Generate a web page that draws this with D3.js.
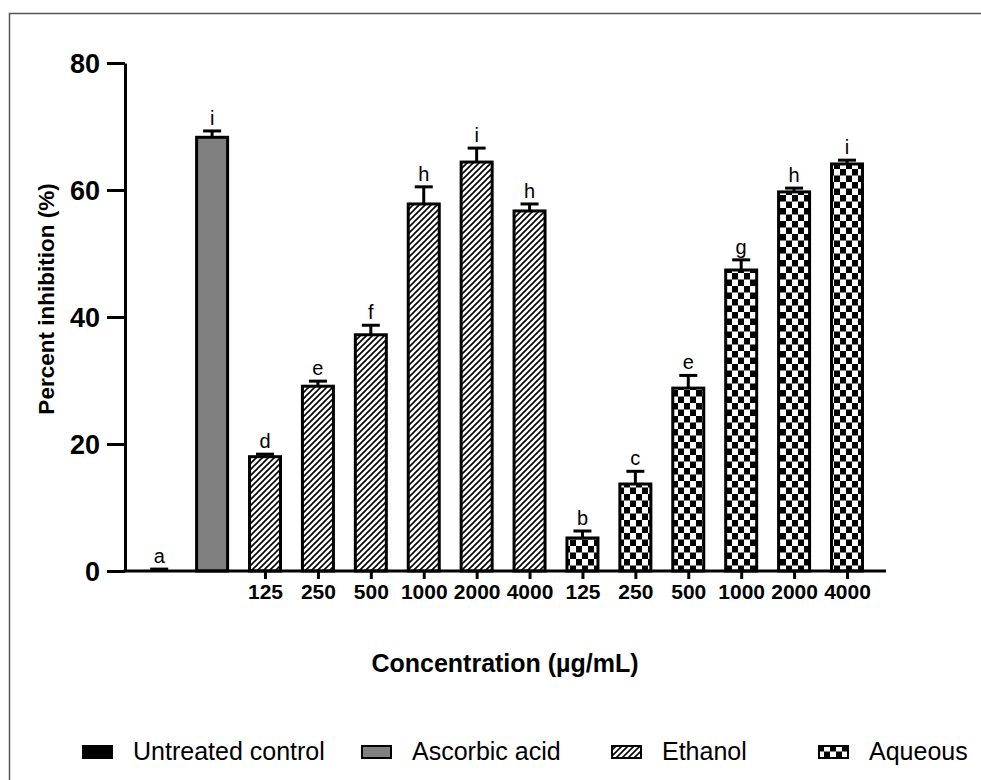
<!DOCTYPE html>
<html>
<head>
<meta charset="utf-8">
<script src="https://cdn.jsdelivr.net/npm/d3@7"></script>
<style>
  body { margin: 0; background: #fff; }
  text { font-family: "Liberation Sans", Arial, sans-serif; fill: #000; }
</style>
</head>
<body>
<script>
// data
const groups = ["Untreated control", "Ascorbic acid", "Ethanol", "Aqueous"];
const barGroup = ["Untreated control", "Ascorbic acid",
  "Ethanol", "Ethanol", "Ethanol", "Ethanol", "Ethanol", "Ethanol",
  "Aqueous", "Aqueous", "Aqueous", "Aqueous", "Aqueous", "Aqueous"];
const barLabel = ["", "", "125", "250", "500", "1000", "2000", "4000",
  "125", "250", "500", "1000", "2000", "4000"];
const means = [0.0, 68.3, 18.0, 29.1, 37.2, 57.8, 64.4, 56.7, 5.2, 13.7, 28.8, 47.4, 59.7, 64.1];
const errors = [0.3, 1.0, 0.4, 0.8, 1.5, 2.7, 2.2, 1.1, 1.1, 2.0, 2.0, 1.6, 0.6, 0.6];
const letters = ["a", "i", "d", "e", "f", "h", "i", "h", "b", "c", "e", "g", "h", "i"];
const yTicks = [0, 20, 40, 60, 80];

const W = 981, H = 780;
const axisLeftX = 125, axisRightX = 886;
const barW = 31;

const bars = means.map((m, i) => ({ id: i, group: barGroup[i], label: barLabel[i], mean: m, err: errors[i], letter: letters[i] }));

const svg = d3.select("body").append("svg").attr("width", W).attr("height", H);

// patterns
const defs = svg.append("defs");
const hatch = defs.append("pattern").attr("id", "hatch")
  .attr("patternUnits", "userSpaceOnUse").attr("width", 6).attr("height", 6);
hatch.append("rect").attr("width", 6).attr("height", 6).attr("fill", "#fff");
hatch.append("path").attr("d", "M0,6 L6,0 M-1.5,1.5 L1.5,-1.5 M4.5,7.5 L7.5,4.5")
  .attr("stroke", "#000").attr("stroke-width", 1.6);

const checker = defs.append("pattern").attr("id", "checker")
  .attr("patternUnits", "userSpaceOnUse").attr("width", 12).attr("height", 13);
checker.append("rect").attr("width", 12).attr("height", 13).attr("fill", "#fff");
checker.append("rect").attr("width", 6).attr("height", 6.5).attr("fill", "#000");
checker.append("rect").attr("x", 6).attr("y", 6.5).attr("width", 6).attr("height", 6.5).attr("fill", "#000");

const fillOf = {
  "Untreated control": "#000",
  "Ascorbic acid": "#808080",
  "Ethanol": "url(#hatch)",
  "Aqueous": "url(#checker)"
};

// frame
svg.append("rect").attr("x", 9.5).attr("y", 13.5).attr("width", 1000).attr("height", 1000)
  .attr("fill", "none").attr("stroke", "#555").attr("stroke-width", 1.5);

const x = d3.scalePoint().domain(bars.map(d => d.id)).range([159.2, 847]);
const y = d3.scaleLinear().domain([0, 80]).range([571, 63]);

// bars
svg.append("g").selectAll("rect").data(bars).join("rect")
  .attr("x", d => x(d.id) - barW / 2)
  .attr("width", barW)
  .attr("y", d => y(d.mean))
  .attr("height", d => y(0) - y(d.mean))
  .attr("fill", d => fillOf[d.group])
  .attr("stroke", "#000").attr("stroke-width", 3);

// error bars
const eb = svg.append("g").attr("stroke", "#000").attr("stroke-width", 3);
eb.selectAll("line.v").data(bars).join("line").attr("class", "v")
  .attr("x1", d => x(d.id)).attr("x2", d => x(d.id))
  .attr("y1", d => y(d.mean)).attr("y2", d => y(d.mean + d.err));
eb.selectAll("line.c").data(bars).join("line").attr("class", "c")
  .attr("x1", d => x(d.id) - 9).attr("x2", d => x(d.id) + 9)
  .attr("y1", d => y(d.mean + d.err)).attr("y2", d => y(d.mean + d.err));

// significance letters
svg.append("g").selectAll("text").data(bars).join("text")
  .attr("x", d => x(d.id))
  .attr("y", d => y(d.mean + d.err) - 6)
  .attr("text-anchor", "middle")
  .attr("font-size", 20)
  .text(d => d.letter);

// y axis
const yAxis = svg.append("g").attr("transform", `translate(${axisLeftX},0)`)
  .call(d3.axisLeft(y).tickValues(yTicks).tickSize(18).tickPadding(7).tickSizeOuter(0));
yAxis.select(".domain").attr("stroke-width", 3);
yAxis.selectAll(".tick line").attr("stroke-width", 3);
yAxis.selectAll(".tick text").attr("font-size", 27).attr("font-weight", "bold")
  .attr("font-family", "Liberation Sans, Arial, sans-serif").attr("dy", "0.36em");

// x axis
const labelled = bars.filter(d => d.label !== "").map(d => d.id);
const xAxis = svg.append("g").attr("transform", `translate(0,${y(0)})`)
  .call(d3.axisBottom(x).tickValues(labelled).tickFormat(i => bars[i].label).tickSize(8).tickPadding(5));
xAxis.select(".domain").remove();
xAxis.selectAll(".tick line").attr("stroke-width", 3);
xAxis.selectAll(".tick text").attr("font-size", 21).attr("font-weight", "bold")
  .attr("font-family", "Liberation Sans, Arial, sans-serif");
xAxis.append("line").attr("x1", axisLeftX - 1.5).attr("x2", axisRightX)
  .attr("y1", 0).attr("y2", 0).attr("stroke", "#000").attr("stroke-width", 3);

// axis titles
svg.append("text").attr("x", 505).attr("y", 672).attr("text-anchor", "middle")
  .attr("font-size", 25).attr("font-weight", "bold").text("Concentration (µg/mL)");
svg.append("text").attr("transform", "translate(54,299) rotate(-90)").attr("text-anchor", "middle")
  .attr("font-size", 22.5).attr("font-weight", "bold").text("Percent inhibition (%)");

// legend
const legendX = [82, 361, 611, 818];
const lg = svg.append("g").selectAll("g").data(groups).join("g")
  .attr("transform", (d, i) => `translate(${legendX[i]},745)`);
lg.append("rect").attr("x", 1).attr("y", 1).attr("width", 29).attr("height", 12)
  .attr("fill", d => fillOf[d])
  .attr("stroke", "#000").attr("stroke-width", 2);
lg.append("text").attr("x", 51).attr("y", 15).attr("font-size", 25).text(d => d);
</script>
</body>
</html>
